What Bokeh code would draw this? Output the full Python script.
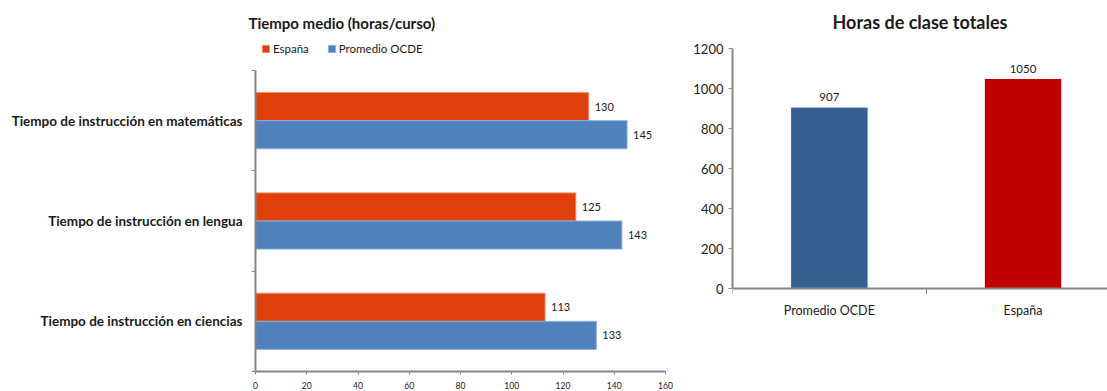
from bokeh.plotting import figure
from bokeh.models import ColumnDataSource, FixedTicker, LabelSet, Legend, LegendItem, Range1d
from bokeh.core.properties import value
from bokeh.transform import dodge
from bokeh.layouts import row
from bokeh.embed import file_html
from bokeh.resources import INLINE

# ---- data ----
categories = ["Tiempo de instrucción en matemáticas",
              "Tiempo de instrucción en lengua",
              "Tiempo de instrucción en ciencias"]
espana = [130, 125, 113]
ocde = [145, 143, 133]
x_ticks = [0, 20, 40, 60, 80, 100, 120, 140, 160]

totals_labels = ["Promedio OCDE", "España"]
totals = [907, 1050]
y2_ticks = [0, 200, 400, 600, 800, 1000, 1200]

FONT = "Lato"
TXT = "#1a1a1a"
AX = "#868686"

# both frames share top/bottom (row aligns them): top 36, bottom 371
FT, FB = 36, 371

# ---- left chart ----
n = len(categories)
pos = [n - i - 0.5 for i in range(n)]
src = ColumnDataSource(dict(pos=pos, cat=categories, espana=espana, ocde=ocde,
                            es_txt=[str(v) for v in espana],
                            oc_txt=[str(v) for v in ocde]))

y1_end = n * (FB - FT) / (FB - 70)
p1 = figure(width=680, height=391, x_range=Range1d(0, 160), y_range=Range1d(0, y1_end),
            output_backend="svg", toolbar_location=None,
            min_border_left=255, min_border_right=15, min_border_bottom=391 - FB,
            min_border_top=FT)
p1.title.text = "Tiempo medio (horas/curso)"
p1.title.text_font = FONT
p1.title.text_font_size = "15px"
p1.title.text_font_style = "bold"
p1.title.text_color = TXT
p1.title.align = "left"
p1.title.standoff = 10
p1.title.offset = -7

r_es = p1.hbar(y=dodge("pos", 0.14, range=p1.y_range), right="espana", left=0,
               height=0.28, source=src, fill_color="#E0400A", line_color="#F08A6A",
               line_width=1)
r_oc = p1.hbar(y=dodge("pos", -0.14, range=p1.y_range), right="ocde", left=0,
               height=0.28, source=src, fill_color="#4F81BD", line_color="#8FB0DA",
               line_width=1)

for col, txt, off in (("espana", "es_txt", 0.14), ("ocde", "oc_txt", -0.14)):
    p1.add_layout(LabelSet(x=col, y=dodge("pos", off, range=p1.y_range), text=txt,
                           source=src, x_offset=6, text_baseline="middle",
                           text_font=value(FONT), text_font_size="11px",
                           text_color=TXT))

legend = Legend(items=[LegendItem(label="España", renderers=[r_es]),
                       LegendItem(label="Promedio OCDE", renderers=[r_oc])],
                orientation="horizontal", location="top_left",
                glyph_width=9, glyph_height=9, label_text_font=FONT,
                label_text_font_size="11.5px", label_text_color=TXT,
                label_standoff=3, spacing=18, padding=0, margin=6,
                border_line_color=None, background_fill_alpha=0)
p1.add_layout(legend)

p1.xgrid.visible = False
p1.ygrid.visible = False
p1.outline_line_color = None

p1.yaxis.bounds = (0, n)
p1.yaxis.ticker = FixedTicker(ticks=pos, minor_ticks=list(range(n + 1)))
p1.yaxis.major_label_overrides = {p: c for p, c in zip(pos, categories)}
p1.yaxis.major_tick_out = 0
p1.yaxis.major_tick_in = 0
p1.yaxis.minor_tick_out = 4
p1.yaxis.minor_tick_in = 0
p1.yaxis.minor_tick_line_color = AX
p1.yaxis.major_label_standoff = 9
p1.yaxis.major_label_text_font = FONT
p1.yaxis.major_label_text_font_size = "13.5px"
p1.yaxis.major_label_text_font_style = "bold"
p1.yaxis.major_label_text_color = TXT
p1.yaxis.axis_line_color = AX
p1.yaxis.axis_line_width = 2

p1.xaxis.ticker = FixedTicker(ticks=x_ticks)
p1.xaxis.major_tick_out = 3
p1.xaxis.major_tick_in = 0
p1.xaxis.major_tick_line_color = AX
p1.xaxis.minor_tick_line_color = None
p1.xaxis.major_label_standoff = 7
p1.xaxis.major_label_text_font = FONT
p1.xaxis.major_label_text_font_size = "8.5px"
p1.xaxis.major_label_text_color = TXT
p1.xaxis.axis_line_color = AX
p1.xaxis.axis_line_width = 2

# ---- right chart ----
xpos = [i + 0.5 for i in range(len(totals_labels))]
src2 = ColumnDataSource(dict(x=xpos, v=totals, t=[str(v) for v in totals],
                             c=["#376092", "#C00000"]))

y2_max = y2_ticks[-1]
ppu = (288 - 48) / y2_max
p2 = figure(width=427, height=391, x_range=Range1d(0, 1.936),
            y_range=Range1d(-(FB - 288) / ppu, y2_max + (48 - FT) / ppu),
            output_backend="svg", toolbar_location=None,
            min_border_left=52, min_border_right=0, min_border_top=FT,
            min_border_bottom=391 - FB)
p2.title.text = "Horas de clase totales"
p2.title.text_font = FONT
p2.title.text_font_size = "18px"
p2.title.text_font_style = "bold"
p2.title.text_color = TXT
p2.title.align = "center"
p2.title.standoff = 8

p2.vbar(x="x", top="v", bottom=0, width=0.4, source=src2, fill_color="c",
        line_color="white", line_width=1)
p2.add_layout(LabelSet(x="x", y="v", text="t", source=src2, y_offset=6,
                       text_align="center", text_baseline="bottom",
                       text_font=value(FONT), text_font_size="11.5px",
                       text_color=TXT))

p2.xgrid.visible = False
p2.ygrid.visible = False
p2.outline_line_color = None

p2.yaxis.bounds = (0, y2_max)
p2.yaxis.ticker = FixedTicker(ticks=y2_ticks)
p2.yaxis.major_tick_out = 4
p2.yaxis.major_tick_in = 0
p2.yaxis.major_tick_line_color = AX
p2.yaxis.minor_tick_line_color = None
p2.yaxis.major_label_standoff = 5
p2.yaxis.major_label_text_font = FONT
p2.yaxis.major_label_text_font_size = "13px"
p2.yaxis.major_label_text_color = TXT
p2.yaxis.axis_line_color = AX
p2.yaxis.axis_line_width = 2

p2.xaxis.fixed_location = 0
p2.xaxis.ticker = FixedTicker(ticks=xpos, minor_ticks=list(range(len(totals_labels) + 1)))
p2.xaxis.major_label_overrides = {x: l for x, l in zip(xpos, totals_labels)}
p2.xaxis.major_tick_out = 0
p2.xaxis.major_tick_in = 0
p2.xaxis.minor_tick_out = 5
p2.xaxis.minor_tick_in = 0
p2.xaxis.minor_tick_line_color = AX
p2.xaxis.major_label_standoff = 9
p2.xaxis.major_label_text_font = FONT
p2.xaxis.major_label_text_font_size = "12.5px"
p2.xaxis.major_label_text_color = TXT
p2.xaxis.axis_line_color = AX
p2.xaxis.axis_line_width = 2

layout = row(p1, p2, spacing=0)
open("out.html", "w").write(file_html(layout, INLINE))
